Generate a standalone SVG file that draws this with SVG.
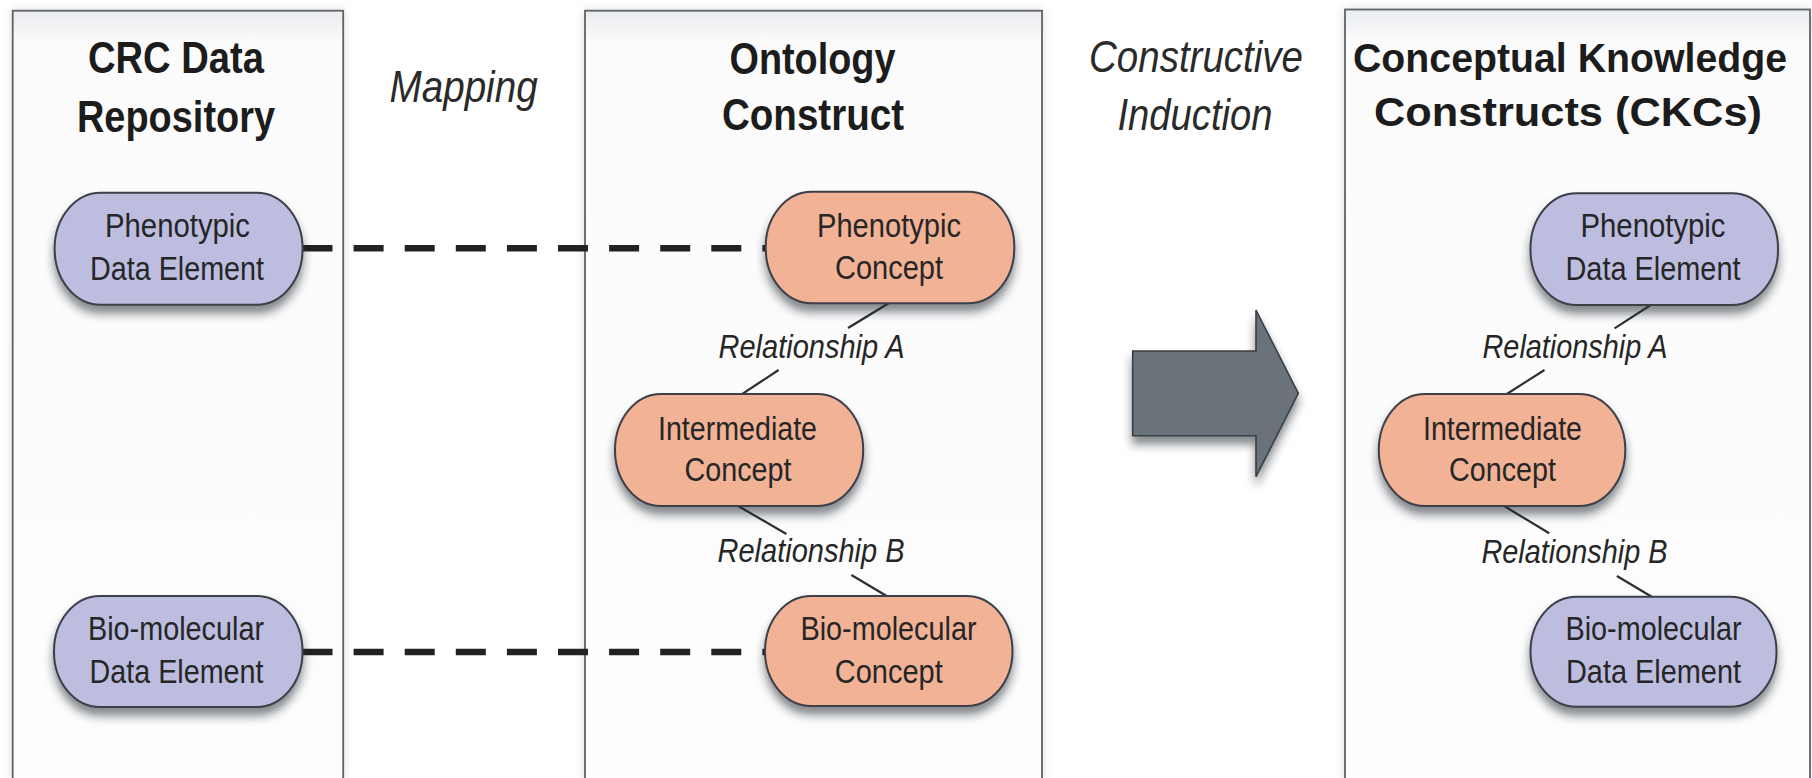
<svg xmlns="http://www.w3.org/2000/svg" width="1812" height="778" viewBox="0 0 1812 778">
  <defs>
    <filter id="nodeShadow" x="-20%" y="-20%" width="140%" height="160%">
      <feDropShadow dx="0" dy="8" stdDeviation="5" flood-color="#1e2530" flood-opacity="0.55"/>
    </filter>
    <filter id="panelShadow" x="-5%" y="-5%" width="110%" height="110%">
      <feDropShadow dx="0" dy="0" stdDeviation="5" flood-color="#9aa0a8" flood-opacity="0.35"/>
    </filter>
    <linearGradient id="panelFill" x1="0" y1="0" x2="0" y2="1">
      <stop offset="0" stop-color="#e9ebee"/>
      <stop offset="0.04" stop-color="#fbfbfc"/>
      <stop offset="1" stop-color="#fdfdfd"/>
    </linearGradient>
    <style>
      .panel { fill: url(#panelFill); stroke: #5f6266; stroke-width: 1.8; }
      .title { font-family: "Liberation Sans", Arial, sans-serif; font-weight: bold; font-size: 44px; fill: #1c1c1c; text-anchor: middle; }
      .title-wide { font-size: 40px; }
      .step { font-family: "Liberation Sans", Arial, sans-serif; font-style: italic; font-size: 45px; fill: #2a2a2a; text-anchor: middle; }
      .data { fill: #bdbde0; stroke: #3c3f48; stroke-width: 2; filter: url(#nodeShadow); }
      .concept { fill: #f1b295; stroke: #3c3f48; stroke-width: 2; filter: url(#nodeShadow); }
      .label { font-family: "Liberation Sans", Arial, sans-serif; font-size: 34px; fill: #262626; text-anchor: middle; }
      .rel { font-family: "Liberation Sans", Arial, sans-serif; font-style: italic; font-size: 33px; fill: #262626; text-anchor: middle; }
      .map { stroke: #222; stroke-width: 6.5; stroke-dasharray: 30 21.1; fill: none; }
      .link { stroke: #2b2e33; stroke-width: 2.2; fill: none; }
    </style>
  </defs>

  <rect width="1812" height="778" fill="#ffffff"/>

  <!-- column frames -->
  <g id="panel-repository">
    <rect class="panel" x="12.7" y="10.7" width="330.5" height="770" filter="url(#panelShadow)"/>
    <text class="title" x="176" y="73" textLength="176" lengthAdjust="spacingAndGlyphs">CRC Data</text>
    <text class="title" x="176" y="131.5" textLength="198" lengthAdjust="spacingAndGlyphs">Repository</text>
  </g>
  <g id="panel-ontology">
    <rect class="panel" x="585" y="10.7" width="457" height="770" filter="url(#panelShadow)"/>
    <text class="title" x="812.5" y="74" textLength="166" lengthAdjust="spacingAndGlyphs">Ontology</text>
    <text class="title" x="813" y="130" textLength="182" lengthAdjust="spacingAndGlyphs">Construct</text>
  </g>
  <g id="panel-ckc">
    <rect class="panel" x="1345" y="9.5" width="465" height="771" filter="url(#panelShadow)"/>
    <text class="title title-wide" x="1570" y="72" textLength="434" lengthAdjust="spacingAndGlyphs">Conceptual Knowledge</text>
    <text class="title title-wide" x="1568" y="126" textLength="388" lengthAdjust="spacingAndGlyphs">Constructs (CKCs)</text>
  </g>

  <!-- step captions -->
  <g id="caption-mapping">
    <text class="step" x="463.6" y="102" textLength="148" lengthAdjust="spacingAndGlyphs">Mapping</text>
  </g>
  <g id="caption-induction">
    <text class="step" x="1196" y="72" textLength="214" lengthAdjust="spacingAndGlyphs">Constructive</text>
    <text class="step" x="1195" y="130" textLength="155" lengthAdjust="spacingAndGlyphs">Induction</text>
  </g>

  <!-- induction arrow -->
  <g id="induction-arrow">
    <path d="M1132.7 351 H1256 V310 L1298.3 393.3 L1256 476.7 V435.7 H1132.7 Z" fill="#6b7379" stroke="#3a3f44" stroke-width="1.6" stroke-linejoin="miter" filter="url(#nodeShadow)"/>
  </g>

  <!-- connectors -->
  <g id="connectors">
    <line class="map" x1="302.5" y1="248.3" x2="765" y2="248.3"/>
    <line class="map" x1="302.5" y1="652" x2="765" y2="652"/>

    <line class="link" x1="889" y1="303" x2="848" y2="328"/>
    <line class="link" x1="778.6" y1="370" x2="738.2" y2="396.7"/>
    <line class="link" x1="738.2" y1="506" x2="786.4" y2="534"/>
    <line class="link" x1="851.4" y1="575" x2="890" y2="598"/>

    <line class="link" x1="1653.3" y1="303.3" x2="1614.5" y2="328.3"/>
    <line class="link" x1="1544.5" y1="370" x2="1502.5" y2="396.7"/>
    <line class="link" x1="1502.5" y1="505" x2="1549.2" y2="533.3"/>
    <line class="link" x1="1616.9" y1="576" x2="1654.2" y2="598.3"/>

    <text class="rel" x="811.5" y="358.3" textLength="186" lengthAdjust="spacingAndGlyphs">Relationship A</text>
    <text class="rel" x="811" y="562" textLength="187" lengthAdjust="spacingAndGlyphs">Relationship B</text>
    <text class="rel" x="1575" y="358.3" textLength="185" lengthAdjust="spacingAndGlyphs">Relationship A</text>
    <text class="rel" x="1574.5" y="563" textLength="186" lengthAdjust="spacingAndGlyphs">Relationship B</text>
  </g>

  <!-- repository nodes -->
  <g id="repo-phenotypic">
    <rect class="data" x="54.6" y="192.7" width="248" height="112" rx="46" ry="56"/>
    <text class="label" x="177.5" y="237" textLength="145" lengthAdjust="spacingAndGlyphs">Phenotypic</text>
    <text class="label" x="177" y="280" textLength="174" lengthAdjust="spacingAndGlyphs">Data Element</text>
  </g>
  <g id="repo-biomolecular">
    <rect class="data" x="54" y="596" width="248.5" height="111" rx="46" ry="55"/>
    <text class="label" x="176" y="640" textLength="176" lengthAdjust="spacingAndGlyphs">Bio-molecular</text>
    <text class="label" x="176.5" y="683.3" textLength="174" lengthAdjust="spacingAndGlyphs">Data Element</text>
  </g>

  <!-- ontology nodes -->
  <g id="onto-phenotypic">
    <rect class="concept" x="765.7" y="191.7" width="248.6" height="111.6" rx="46" ry="55"/>
    <text class="label" x="889" y="237" textLength="144" lengthAdjust="spacingAndGlyphs">Phenotypic</text>
    <text class="label" x="889" y="279" textLength="108" lengthAdjust="spacingAndGlyphs">Concept</text>
  </g>
  <g id="onto-intermediate">
    <rect class="concept" x="615" y="394" width="248.2" height="112" rx="46" ry="56"/>
    <text class="label" x="737.5" y="440" textLength="159" lengthAdjust="spacingAndGlyphs">Intermediate</text>
    <text class="label" x="738" y="481" textLength="107" lengthAdjust="spacingAndGlyphs">Concept</text>
  </g>
  <g id="onto-biomolecular">
    <rect class="concept" x="765" y="596" width="247.5" height="110" rx="46" ry="55"/>
    <text class="label" x="888.5" y="640" textLength="176" lengthAdjust="spacingAndGlyphs">Bio-molecular</text>
    <text class="label" x="888.8" y="683.3" textLength="108" lengthAdjust="spacingAndGlyphs">Concept</text>
  </g>

  <!-- CKC nodes -->
  <g id="ckc-phenotypic">
    <rect class="data" x="1530.5" y="193.3" width="247.5" height="111.7" rx="46" ry="55"/>
    <text class="label" x="1653" y="237" textLength="145" lengthAdjust="spacingAndGlyphs">Phenotypic</text>
    <text class="label" x="1653" y="280" textLength="175" lengthAdjust="spacingAndGlyphs">Data Element</text>
  </g>
  <g id="ckc-intermediate">
    <rect class="concept" x="1378.8" y="394" width="246.5" height="112" rx="46" ry="56"/>
    <text class="label" x="1502.5" y="440" textLength="159" lengthAdjust="spacingAndGlyphs">Intermediate</text>
    <text class="label" x="1502.5" y="481" textLength="107" lengthAdjust="spacingAndGlyphs">Concept</text>
  </g>
  <g id="ckc-biomolecular">
    <rect class="data" x="1530.5" y="596.7" width="246" height="110" rx="46" ry="55"/>
    <text class="label" x="1653.5" y="640" textLength="176" lengthAdjust="spacingAndGlyphs">Bio-molecular</text>
    <text class="label" x="1653.5" y="683.3" textLength="175" lengthAdjust="spacingAndGlyphs">Data Element</text>
  </g>
</svg>
